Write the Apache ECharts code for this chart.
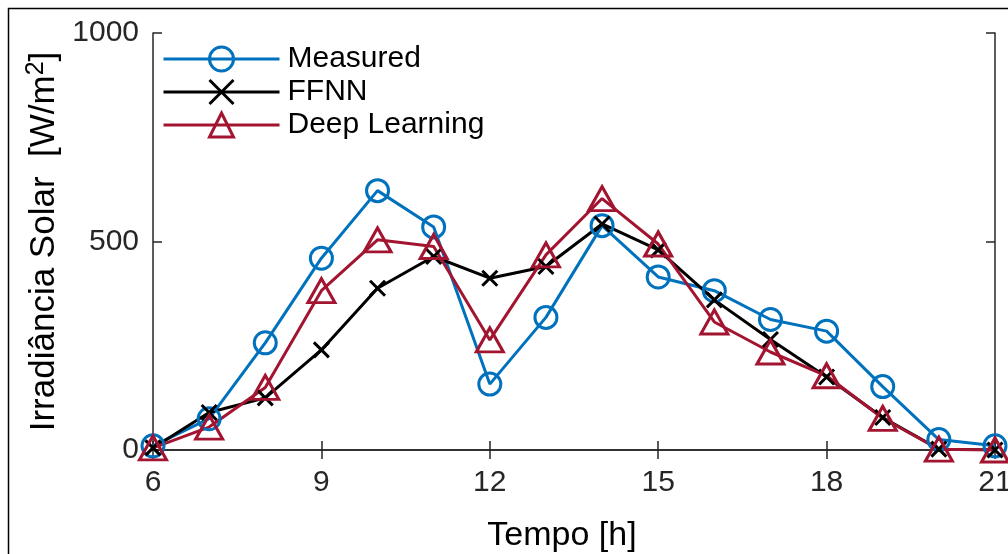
<!DOCTYPE html>
<html>
<head>
<meta charset="utf-8">
<script src="https://cdn.jsdelivr.net/npm/echarts@6/dist/echarts.min.js"></script>
<style>
  html, body { margin: 0; padding: 0; background: #fff; }
  #chart { width: 1008px; height: 554px; }
</style>
</head>
<body>
<div id="chart"></div>
<script>
// horas do dia
const hours = [6, 7, 8, 9, 10, 11, 12, 13, 14, 15, 16, 17, 18, 19, 20, 21];
const measured = [10, 75, 257, 460, 622, 535, 158, 318, 538, 415, 382, 313, 285, 152, 25, 10];
const ffnn = [5, 90, 125, 240, 388, 464, 412, 440, 542, 480, 360, 265, 175, 78, 2, 0];
const deepLearning = [5, 55, 150, 382, 504, 488, 264, 468, 603, 494, 307, 235, 178, 76, 2, 0];
const xTicks = [6, 9, 12, 15, 18, 21];
const yTicks = [0, 500, 1000];

const axisColor = '#262626';
const font = 'Liberation Sans, Arial, sans-serif';

function pairs(vals) {
    return hours.map((h, i) => [h, vals[i]]);
}

const cross = 'path://M0,0L10,10M0,10L10,0';

const option = {
    backgroundColor: '#ffffff',
    animation: false,
    grid: { left: 153, top: 33, right: 13, bottom: 104, outerBoundsMode: 'none', containLabel: false },
    graphic: [{
        type: 'rect',
        shape: { x: 8.5, y: 8.5, width: 1100, height: 700 },
        style: { fill: 'none', stroke: '#000', lineWidth: 1.5 }
    }],
    legend: {
        orient: 'vertical',
        left: 162,
        top: 44,
        itemWidth: 116,
        itemHeight: 30,
        itemGap: 3,
        padding: 0,
        lineStyle: { width: 3 },
        itemStyle: { borderWidth: 3 },
        textStyle: { fontFamily: font, fontSize: 30, color: '#000', padding: [0, 0, 0, 3] },
        data: ['Measured', 'FFNN', 'Deep Learning']
    },
    xAxis: [{
        type: 'value',
        min: 6, max: 21, interval: 3,
        name: 'Tempo [h]',
        nameLocation: 'middle',
        nameGap: 69,
        nameTextStyle: { fontFamily: font, fontSize: 34, color: '#000', padding: [0, 24, 0, 0] },
        axisLine: { show: true, lineStyle: { color: axisColor, width: 1.5 } },
        axisTick: { inside: true, length: 9, lineStyle: { color: axisColor, width: 1.5 } },
        axisLabel: { margin: 18, fontFamily: font, fontSize: 30, color: axisColor,
            formatter: v => xTicks.includes(v) ? String(v) : '' },
        splitLine: { show: false }
    }, {
        type: 'value', position: 'top',
        min: 6, max: 21, interval: 3,
        axisLine: { show: true, lineStyle: { color: axisColor, width: 1.5 } },
        axisTick: { inside: true, length: 9, lineStyle: { color: axisColor, width: 1.5 } },
        axisLabel: { show: false },
        splitLine: { show: false }
    }],
    yAxis: [{
        type: 'value',
        min: 0, max: 1000, interval: 500,
        name: 'Irradiância Solar  [W/m{sup|2}]',
        nameLocation: 'middle',
        nameRotate: 90,
        nameGap: 83,
        nameTextStyle: { fontFamily: font, fontSize: 35, color: '#000',
            rich: { sup: { fontFamily: font, fontSize: 25, color: '#000', verticalAlign: 'top', padding: [0, 0, 16, 0] } } },
        axisLine: { show: true, lineStyle: { color: axisColor, width: 1.5 } },
        axisTick: { inside: true, length: 9, lineStyle: { color: axisColor, width: 1.5 } },
        axisLabel: { margin: 14, fontFamily: font, fontSize: 30, color: axisColor,
            formatter: v => yTicks.includes(v) ? String(v) : '' },
        splitLine: { show: false }
    }, {
        type: 'value', position: 'right',
        min: 0, max: 1000, interval: 500,
        axisLine: { show: true, lineStyle: { color: axisColor, width: 1.5 } },
        axisTick: { inside: true, length: 9, lineStyle: { color: axisColor, width: 1.5 } },
        axisLabel: { show: false },
        splitLine: { show: false }
    }],
    series: [{
        name: 'Measured',
        type: 'line',
        data: pairs(measured),
        symbol: 'circle',
        symbolSize: 22,
        lineStyle: { color: '#0072BD', width: 3 },
        itemStyle: { color: 'rgba(255,255,255,0)', borderColor: '#0072BD', borderWidth: 3 }
    }, {
        name: 'FFNN',
        type: 'line',
        data: pairs(ffnn),
        symbol: cross,
        symbolSize: 15,
        lineStyle: { color: '#000000', width: 3 },
        itemStyle: { color: 'rgba(0,0,0,0)', borderColor: '#000000', borderWidth: 3 }
    }, {
        name: 'Deep Learning',
        type: 'line',
        data: pairs(deepLearning),
        symbol: 'path://M5,0L10,9L0,9Z',
        symbolSize: [27, 24],
        lineStyle: { color: '#A2142F', width: 3 },
        itemStyle: { color: 'rgba(255,255,255,0)', borderColor: '#A2142F', borderWidth: 3 }
    }]
};

const myChart = echarts.init(document.getElementById('chart'));
myChart.setOption(option);
</script>
</body>
</html>
